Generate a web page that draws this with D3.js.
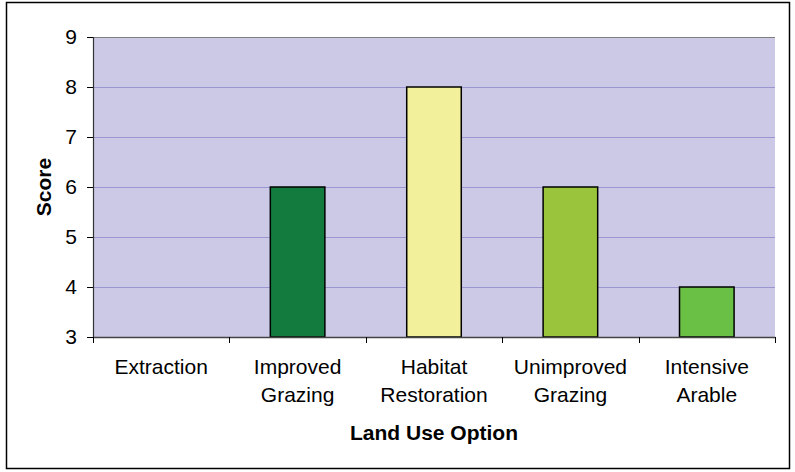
<!DOCTYPE html>
<html>
<head>
<meta charset="utf-8">
<script src="https://cdn.jsdelivr.net/npm/d3@7/dist/d3.min.js"></script>
<style>
  html, body { margin: 0; padding: 0; background: #fff; }
  svg { display: block; }
  text { font-family: "Liberation Sans", Arial, sans-serif; fill: #000; }
</style>
</head>
<body>
<svg id="chart" width="795" height="472"></svg>
<script>
// Land use options and their scores (Extraction has no score above the baseline)
const categories = [["Extraction"], ["Improved", "Grazing"], ["Habitat", "Restoration"], ["Unimproved", "Grazing"], ["Intensive", "Arable"]];
const scores = [null, 6, 8, 6, 4];
const barColors = ["#ffffff", "#137b3e", "#f3f09c", "#9ac43b", "#6abf45"];
const yTicks = [3, 4, 5, 6, 7, 8, 9];

const svg = d3.select("#chart");
const plot = { left: 93, top: 37, right: 775, bottom: 337 };
const FS = "21px";

// outer frame
svg.append("rect")
  .attr("x", 6.5).attr("y", 2.5).attr("width", 783).attr("height", 466)
  .attr("fill", "#fff").attr("stroke", "#000").attr("stroke-width", 1.5);

const x = d3.scaleBand()
  .domain(d3.range(categories.length))
  .range([plot.left, plot.right])
  .paddingInner(0).paddingOuter(0);

const y = d3.scaleLinear().domain([3, 9]).range([plot.bottom, plot.top]);

// plot background
svg.append("rect")
  .attr("x", plot.left).attr("y", plot.top)
  .attr("width", plot.right - plot.left).attr("height", plot.bottom - plot.top)
  .attr("fill", "#cbc9e5");

// horizontal gridlines
svg.append("g")
  .selectAll("line")
  .data(yTicks.filter(d => d > 3))
  .join("line")
  .attr("x1", plot.left).attr("x2", plot.right)
  .attr("y1", d => Math.round(y(d)) + 0.5).attr("y2", d => Math.round(y(d)) + 0.5)
  .attr("stroke", d => d === 9 ? "#808080" : "#9a96cf")
  .attr("stroke-width", 1);

// bars
const bars = categories.map((c, i) => ({ i, v: scores[i], color: barColors[i] })).filter(d => d.v != null);
svg.append("g")
  .selectAll("rect")
  .data(bars)
  .join("rect")
  .attr("x", d => x(d.i) + x.bandwidth() * 0.3)
  .attr("width", x.bandwidth() * 0.4)
  .attr("y", d => y(d.v))
  .attr("height", d => y(3) - y(d.v))
  .attr("fill", d => d.color)
  .attr("stroke", "#000")
  .attr("stroke-width", 1.5);

// y axis
const yAxis = svg.append("g")
  .attr("transform", `translate(${plot.left},0)`)
  .call(d3.axisLeft(y).tickValues(yTicks).tickSize(6).tickPadding(10).tickFormat(d3.format("d")));
yAxis.attr("font-size", null).attr("font-family", null);
yAxis.select(".domain").attr("stroke", "#333").attr("stroke-width", 1.2);
yAxis.selectAll(".tick line").attr("stroke", "#000");
yAxis.selectAll(".tick text")
  .style("font-size", FS)
  .attr("fill", "#000");

// x axis
const xAxis = svg.append("g")
  .attr("transform", `translate(0,${plot.bottom})`)
  .call(d3.axisBottom(x).tickSize(0).tickFormat(""));
xAxis.select(".domain").attr("stroke", "#444").attr("stroke-width", 1.5);

// category separators
svg.append("g")
  .selectAll("line")
  .data(d3.range(categories.length + 1))
  .join("line")
  .attr("x1", i => Math.round(plot.left + i * x.step()) + 0.5)
  .attr("x2", i => Math.round(plot.left + i * x.step()) + 0.5)
  .attr("y1", plot.bottom).attr("y2", plot.bottom + 6)
  .attr("stroke", "#000");

// category labels
const lbl = svg.append("g")
  .selectAll("text")
  .data(categories)
  .join("text")
  .attr("text-anchor", "middle")
  .style("font-size", FS)
  .attr("x", (d, i) => x(i) + x.bandwidth() / 2)
  .attr("y", 374);
lbl.selectAll("tspan")
  .data(d => d)
  .join("tspan")
  .attr("x", function() { return d3.select(this.parentNode).attr("x"); })
  .attr("dy", (d, j) => j === 0 ? 0 : 28)
  .text(d => d);

// axis titles
svg.append("text")
  .attr("x", (plot.left + plot.right) / 2).attr("y", 440)
  .attr("text-anchor", "middle")
  .style("font-size", FS).style("font-weight", "bold")
  .text("Land Use Option");

svg.append("text")
  .attr("transform", `translate(51,${(plot.top + plot.bottom) / 2}) rotate(-90)`)
  .attr("text-anchor", "middle")
  .style("font-size", FS).style("font-weight", "bold")
  .text("Score");
</script>
</body>
</html>
